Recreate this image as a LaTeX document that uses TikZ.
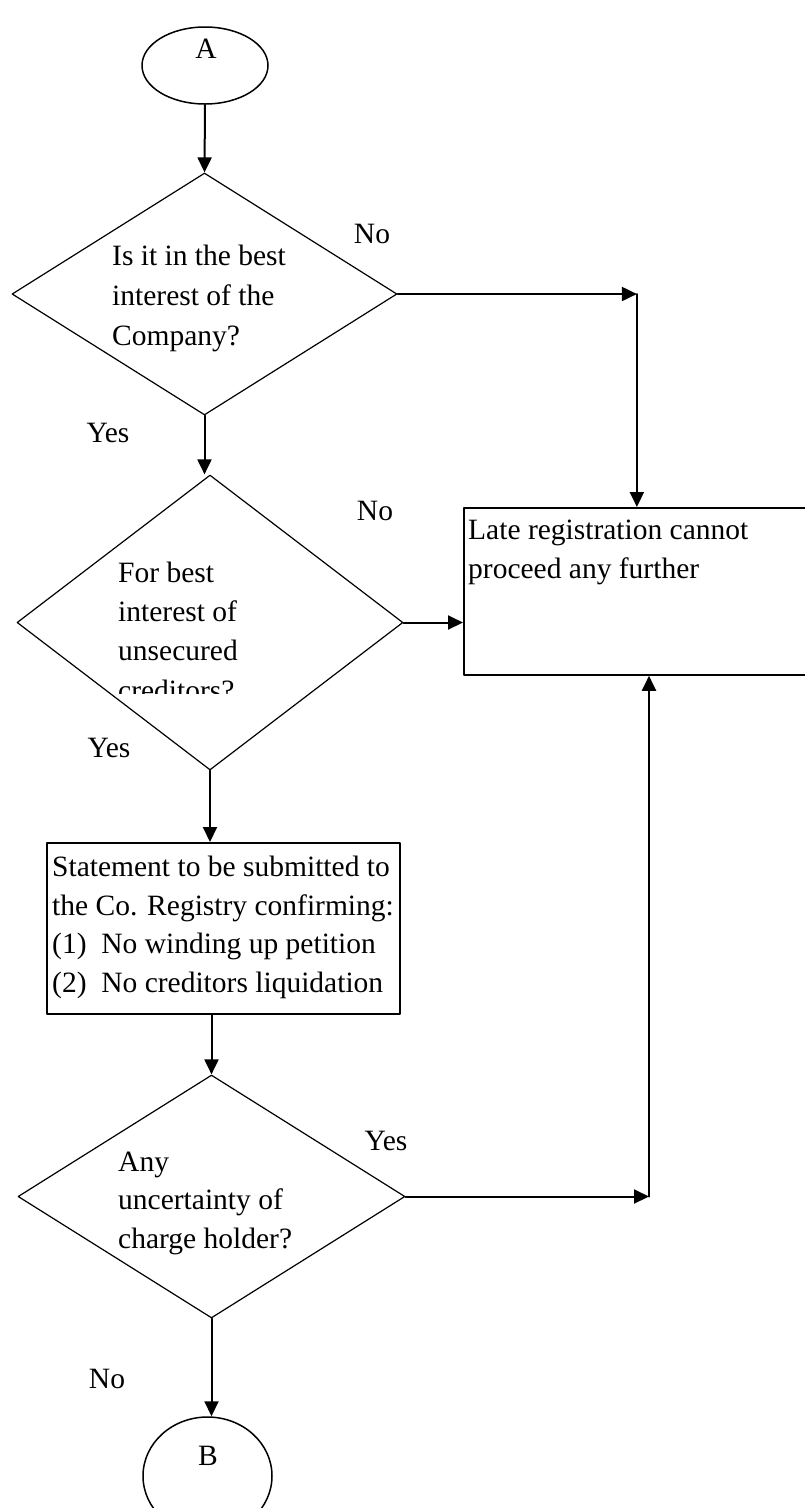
\documentclass[tikz,border=0pt]{standalone}
\usepackage{fontspec}
\setmainfont{Liberation Serif}
\usetikzlibrary{shapes.geometric,arrows.meta}
\begin{document}
\begin{tikzpicture}[x=1pt,y=-1pt,font=\fontsize{29.5}{38.5}\selectfont,line join=round,line cap=round,
	>={Stealth[inset=0pt,length=15pt,width=14pt]},
	term/.style={draw,ellipse,line width=1.5pt,inner sep=0pt},
	decision/.style={draw,diamond,line width=1.2pt,inner sep=0pt},
	stepbox/.style={draw,rectangle,line width=1.8pt,inner sep=0pt,anchor=north west},
	txt/.style={anchor=base west,align=left,inner sep=0pt},
	lbl/.style={anchor=base,inner sep=0pt},
	flow/.style={->,line width=2pt}]
	\useasboundingbox (0,0) rectangle (804,1508);
	\node[term,minimum width=126pt,minimum height=77pt] (A) at (205,65.5) {};
	\node[lbl] (Atxt) at (206,58) {A};
	\node[decision,minimum width=385pt,minimum height=242pt] (q1) at (204.5,294) {};
	\node[txt,font=\fontsize{29.5}{40}\selectfont] (q1txt) at (112,345) {Is it in the best\\interest of the\\Company?};
	\node[decision,minimum width=386pt,minimum height=295pt] (q2) at (210,622.5) {};
	\begin{scope}
	\clip (0,0) rectangle (804,693);
	\node[txt,font=\fontsize{29.5}{39.3}\selectfont] (q2txt) at (118,700) {For best\\interest of\\unsecured\\creditors?};
	\end{scope}
	\node[stepbox,minimum width=346pt,minimum height=167pt] (late) at (463,507) {};
	\node[txt] (latetxt) at (468,578) {Late registration cannot\\proceed any further};
	\node[stepbox,minimum width=353pt,minimum height=171pt] (stmt) at (46,842) {};
	\node[txt] (stmttxt) at (52,992) {Statement to be submitted to\\the Co. Registry confirming:\\(1)\ \ No winding up petition\\(2)\ \ No creditors liquidation};
	\node[decision,minimum width=387pt,minimum height=243pt] (q3) at (211.5,1196.5) {};
	\node[txt] (q3txt) at (118,1248) {Any\\uncertainty of\\charge holder?};
	\node[term,minimum width=129pt,minimum height=118pt] (B) at (207.5,1476) {};
	\node[lbl] (Btxt) at (208,1465) {B};
	\node[lbl] (no1) at (372,243) {No};
	\node[lbl] (yes1) at (108,442) {Yes};
	\node[lbl] (no2) at (375,520) {No};
	\node[lbl] (yes2) at (109,757) {Yes};
	\node[lbl] (yes3) at (386,1150) {Yes};
	\node[lbl] (no3) at (107,1388) {No};
	\coordinate (c1) at (q1.east -| late.north);
	\coordinate (c2) at (649,1196.5);
	\draw[flow] (A.south) -- (q1.north);
	\draw[flow] (q1.east) -- (c1);
	\draw[flow] (c1) -- (late.north);
	\draw[flow] (q1.south) -- (q1.south |- q2.north);
	\draw[flow] (q2.east) -- (q2.east -| late.west);
	\draw[flow] (q2.south) -- (q2.south |- stmt.north);
	\draw[flow] (q3.north |- stmt.south) -- (q3.north);
	\draw[flow] (q3.east) -- (c2);
	\draw[flow] (c2) -- (c2 |- late.south);
	\draw[flow] (q3.south) -- (q3.south |- B.north);
\end{tikzpicture}
\end{document}
